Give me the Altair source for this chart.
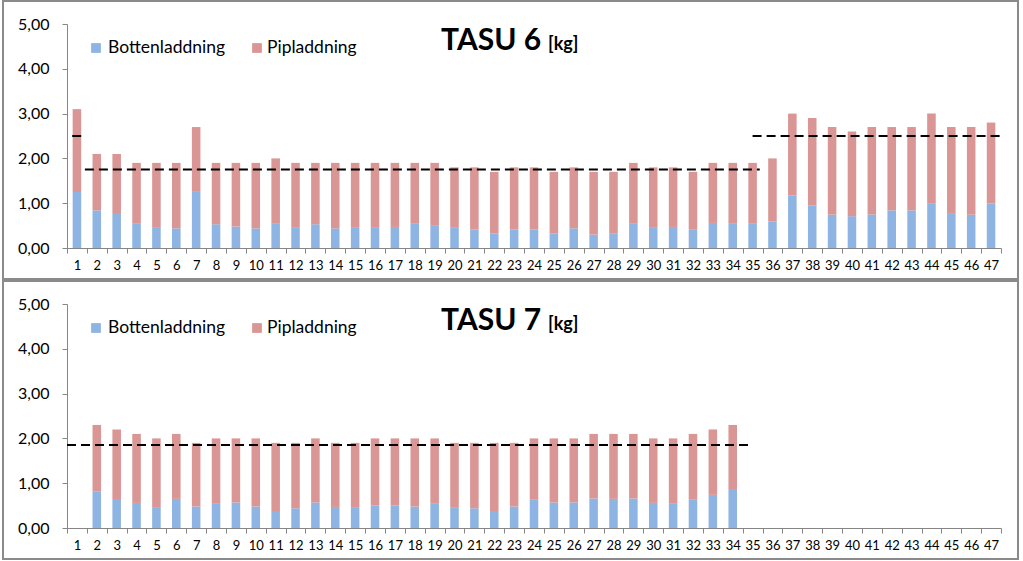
import altair as alt
import pandas as pd

cats = list(range(1, 48))
series_names = ["Bottenladdning", "Pipladdning"]
series_colors = ["#8db4e2", "#d99694"]

# TASU 6 (categories 1..47)
tasu6_cats = list(range(1, 48))
tasu6_total = [3.1, 2.1, 2.1, 1.9, 1.9, 1.9, 2.7, 1.9, 1.9, 1.9, 2.0, 1.9, 1.9, 1.9, 1.9, 1.9,
               1.9, 1.9, 1.9, 1.8, 1.8, 1.7, 1.8, 1.8, 1.7, 1.8, 1.7, 1.7, 1.9, 1.8, 1.8, 1.7,
               1.9, 1.9, 1.9, 2.0, 3.0, 2.9, 2.7, 2.6, 2.7, 2.7, 2.7, 3.0, 2.7, 2.7, 2.8]
tasu6_bottom = [1.25, 0.84, 0.78, 0.54, 0.45, 0.44, 1.27, 0.53, 0.48, 0.44, 0.54, 0.45, 0.53, 0.44,
                0.45, 0.45, 0.47, 0.54, 0.51, 0.45, 0.41, 0.32, 0.41, 0.41, 0.32, 0.44, 0.30, 0.33,
                0.54, 0.45, 0.47, 0.42, 0.56, 0.54, 0.54, 0.59, 1.17, 0.95, 0.74, 0.71, 0.75, 0.84,
                0.84, 0.99, 0.78, 0.74, 0.99]
tasu6_ref_start = [0.76, 1.40, 35.0]
tasu6_ref_end = [1.36, 35.36, 47.45]
tasu6_ref_level = [2.5, 1.75, 2.5]

# TASU 7 (categories 2..34)
tasu7_cats = list(range(2, 35))
tasu7_total = [2.3, 2.2, 2.1, 2.0, 2.1, 1.9, 2.0, 2.0, 2.0, 1.9, 1.9, 2.0, 1.9, 1.9, 2.0, 2.0, 2.0,
               2.0, 1.9, 1.9, 1.9, 1.9, 2.0, 2.0, 2.0, 2.1, 2.1, 2.1, 2.0, 2.0, 2.1, 2.2, 2.3]
tasu7_bottom = [0.82, 0.65, 0.56, 0.45, 0.65, 0.48, 0.54, 0.57, 0.48, 0.38, 0.44, 0.57, 0.47, 0.45,
                0.50, 0.50, 0.48, 0.54, 0.45, 0.44, 0.38, 0.48, 0.63, 0.57, 0.57, 0.66, 0.65, 0.66,
                0.56, 0.54, 0.63, 0.74, 0.85]
tasu7_ref_start = [0.5]
tasu7_ref_end = [35.0]
tasu7_ref_level = [1.85]

FONT = "Lato"
AXIS_GRAY = "#868686"
PW, PH = 934, 224

Y_AXIS = alt.Axis(title=None, values=[0, 1, 2, 3, 4, 5], grid=False, tickSize=5,
                  labelPadding=13, labelFontSize=16, labelFont=FONT,
                  labelColor="#000000", domainColor=AXIS_GRAY, tickColor=AXIS_GRAY,
                  labelExpr="replace(format(datum.value, '.2f'), '.', ',')")
Y_SCALE = alt.Scale(domain=[0, 5], nice=False)


def bars_frame(cs, total, bottom):
    rows = []
    for c, t, b in zip(cs, total, bottom):
        rows.append({"cat": c, "series": series_names[0], "value": b, "ord": 0})
        rows.append({"cat": c, "series": series_names[1], "value": round(t - b, 3), "ord": 1})
    return pd.DataFrame(rows)


def panel(title_main, cs, total, bottom, rs, re, rl):
    df = bars_frame(cs, total, bottom)
    bars = alt.Chart(df).mark_bar(width=alt.RelativeBandSize(0.43)).encode(
        x=alt.X("cat:O", scale=alt.Scale(domain=cats, paddingInner=0, paddingOuter=0),
                axis=alt.Axis(title=None, labelAngle=0, tickBand="extent", tickSize=5,
                              labelPadding=6, labelFontSize=13, labelFont=FONT,
                              labelColor="#000000", domainColor=AXIS_GRAY, tickColor=AXIS_GRAY)),
        y=alt.Y("value:Q", stack="zero", scale=Y_SCALE, axis=Y_AXIS),
        color=alt.Color("series:N", scale=alt.Scale(domain=series_names, range=series_colors),
                        legend=None),
        order=alt.Order("ord:Q"),
    )
    rdf = pd.DataFrame({"start": rs, "end": re, "level": rl})
    rules = alt.Chart(rdf).mark_rule(strokeDash=[9, 5], strokeWidth=2, color="#000000").encode(
        x=alt.X("start:Q", scale=alt.Scale(domain=[0.5, 47.5], nice=False, zero=False), axis=None),
        x2="end:Q",
        y=alt.Y("level:Q", scale=Y_SCALE, axis=Y_AXIS),
    )
    layers = [bars, rules]
    sq_x = [29, 190]
    tx_x = [41, 200]
    for i, name in enumerate(series_names):
        ldf = pd.DataFrame({"name": [name]})
        layers.append(alt.Chart(ldf).mark_square(size=95, opacity=1, color=series_colors[i]).encode(
            x=alt.value(sq_x[i]), y=alt.value(24)))
        layers.append(alt.Chart(ldf).mark_text(align="left", baseline="middle", fontSize=17.5,
                                               font=FONT, color="#000000").encode(
            x=alt.value(tx_x[i]), y=alt.value(24), text="name:N"))
    tdf = pd.DataFrame({"t": [title_main]})
    layers.append(alt.Chart(tdf).mark_text(align="left", baseline="alphabetic", fontSize=30,
                                           fontWeight="bold", font=FONT, color="#000000").encode(
        x=alt.value(374), y=alt.value(26), text="t:N"))
    udf = pd.DataFrame({"u": ["[kg]"]})
    layers.append(alt.Chart(udf).mark_text(align="left", baseline="alphabetic", fontSize=18,
                                           fontWeight="bold", font=FONT, color="#000000").encode(
        x=alt.value(481), y=alt.value(26), text="u:N"))
    fdf = pd.DataFrame({"f": [1]})
    layers.append(alt.Chart(fdf).mark_rect(fillOpacity=0, stroke="#8a8a8a", strokeWidth=2).encode(
        x=alt.value(-64), x2=alt.value(951), y=alt.value(-23), y2=alt.value(255)))
    return alt.layer(*layers).resolve_scale(x="independent").properties(
        width=PW, height=PH, view=alt.ViewBackground(strokeOpacity=0, strokeWidth=0))


top = panel("TASU 6", tasu6_cats, tasu6_total, tasu6_bottom,
            tasu6_ref_start, tasu6_ref_end, tasu6_ref_level)
bottom = panel("TASU 7", tasu7_cats, tasu7_total, tasu7_bottom,
               tasu7_ref_start, tasu7_ref_end, tasu7_ref_level)

chart = alt.vconcat(top, bottom, spacing=56, bounds="flush").properties(
    padding={"left": 2, "top": 0, "right": 0, "bottom": 0},
    background="#ffffff",
).configure_view(strokeWidth=0, strokeOpacity=0).configure(font=FONT)

chart.save("out.html", embed_options={"renderer": "svg", "actions": False})
